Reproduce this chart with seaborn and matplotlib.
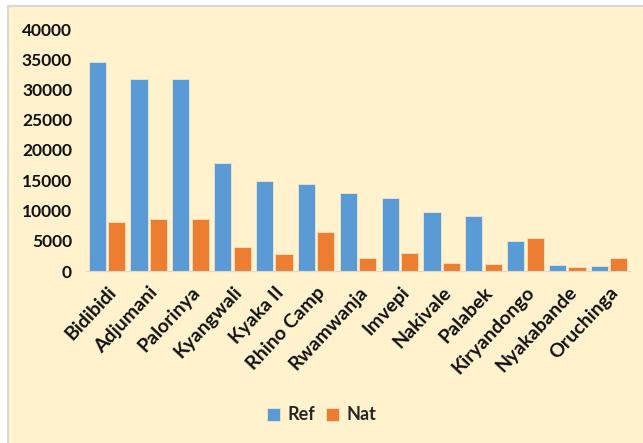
import pandas as pd
import seaborn as sns
import matplotlib.pyplot as plt
from matplotlib.patches import Rectangle

# Datos
settlements = ['Bidibidi', 'Adjumani', 'Palorinya', 'Kyangwali', 'Kyaka II', 'Rhino Camp',
               'Rwamwanja', 'Imvepi', 'Nakivale', 'Palabek', 'Kiryandongo', 'Nyakabande', 'Oruchinga']
ref = [34500, 31800, 31800, 17800, 14900, 14400, 12950, 12100, 9700, 9050, 5000, 950, 800]
nat = [8100, 8550, 8550, 4000, 2750, 6450, 2100, 2900, 1250, 1100, 5500, 600, 2100]

df = pd.DataFrame({'settlement': settlements, 'Ref': ref, 'Nat': nat})
df_long = df.melt(id_vars='settlement', var_name='grupo', value_name='valor')

sns.set_style('white')
plt.rcParams['font.family'] = ['Lato', 'DejaVu Sans']

bg = '#FFF2CC'
fig = plt.figure(figsize=(6.43, 4.43), dpi=100, facecolor='white')
fig.patches.append(Rectangle((8 / 643, -0.05), 1.1, 1 - 6 / 443 + 0.05, transform=fig.transFigure,
                             facecolor=bg, edgecolor='#D9D9D9', linewidth=1.5, zorder=-5))
ax = fig.add_axes([86 / 643, 1 - 271 / 443, 544 / 643, 242 / 443])
ax.set_facecolor(bg)
ax.set_zorder(1)

sns.barplot(data=df_long, x='settlement', y='valor', hue='grupo', order=settlements,
            hue_order=['Ref', 'Nat'], palette=['#5B9BD5', '#ED7D31'], saturation=1,
            width=0.93, gap=0.12, edgecolor='#F3E3C8', linewidth=0.6, ax=ax)

ax.set_ylim(0, 40000)
ax.set_xlim(-0.5, 12.5)
ax.set_yticks(range(0, 40001, 5000))
ax.set_xlabel('')
ax.set_ylabel('')
for s in ['top', 'right', 'left']:
    ax.spines[s].set_visible(False)
ax.spines['bottom'].set_color('#D9D9D9')
ax.tick_params(axis='both', length=0)
ax.tick_params(axis='y', pad=10)
for lbl in ax.get_yticklabels():
    lbl.set_fontsize(12.5)
    lbl.set_fontweight('bold')
    lbl.set_color('#111111')
ax.set_xticks(range(len(settlements)))
ax.set_xticklabels(settlements, rotation=47, ha='right', rotation_mode='anchor',
                   fontsize=14, fontweight='bold', color='#111111')
ax.tick_params(axis='x', pad=9)

handles, labels = ax.get_legend_handles_labels()
ax.get_legend().remove()
fig.legend(handles, labels, loc='center', bbox_to_anchor=(0.5, 1 - 415 / 443), ncol=2,
           frameon=False, prop={'weight': 'bold', 'size': 13}, handlelength=0.75,
           handleheight=0.75, handletextpad=0.4, columnspacing=0.6)

fig.savefig('out.png', dpi=100, facecolor=fig.get_facecolor())
